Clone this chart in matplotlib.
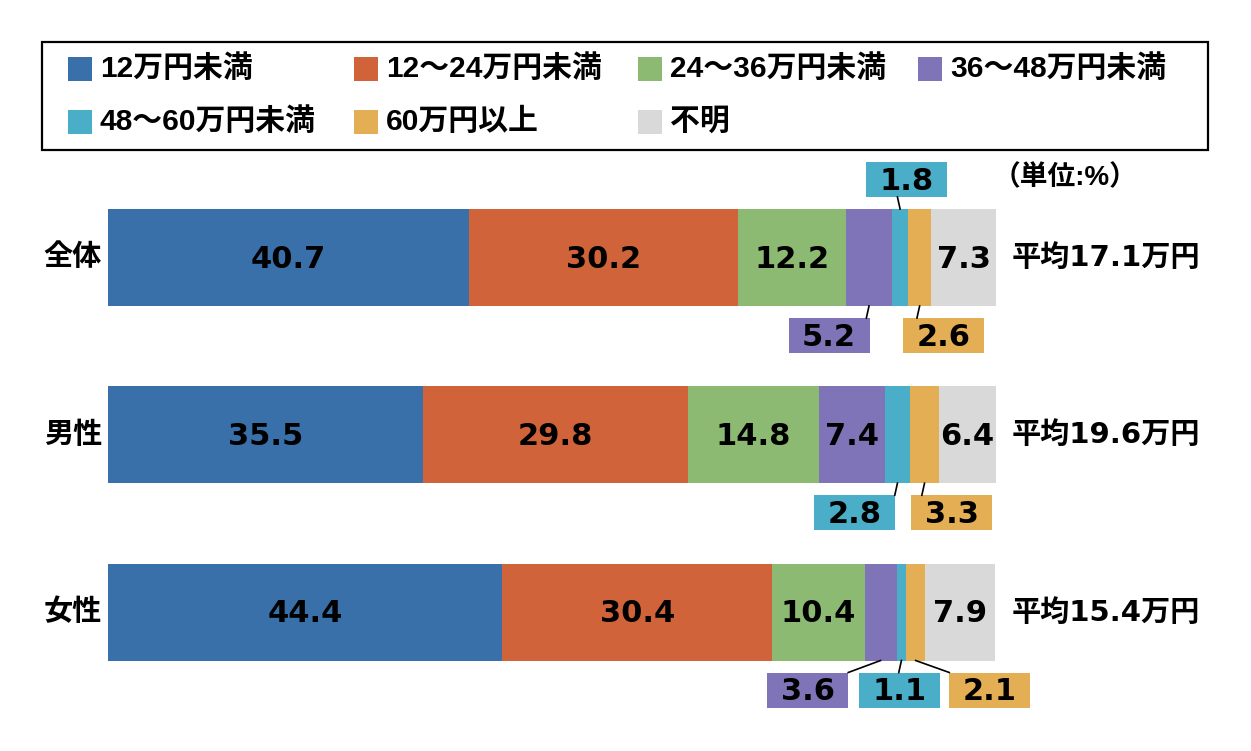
import matplotlib
matplotlib.use("Agg")
import matplotlib.pyplot as plt
from matplotlib.patches import Rectangle
import numpy as np

plt.rcParams['font.family'] = ['Liberation Sans', 'Noto Sans CJK JP', 'DejaVu Sans']
plt.rcParams['font.weight'] = 'bold'
NUM_FAMILY = ['DejaVu Sans', 'Noto Sans CJK JP']

groups = ['全体', '男性', '女性']
series = ['12万円未満', '12～24万円未満', '24～36万円未満', '36～48万円未満',
          '48～60万円未満', '60万円以上', '不明']
colors = ['#3A70AA', '#D0633A', '#8DBA72', '#7E74B7', '#4AAEC8', '#E4AE55', '#D9D9D9']
values = {
    '全体': [40.7, 30.2, 12.2, 5.2, 1.8, 2.6, 7.3],
    '男性': [35.5, 29.8, 14.8, 7.4, 2.8, 3.3, 6.4],
    '女性': [44.4, 30.4, 10.4, 3.6, 1.1, 2.1, 7.9],
}
averages = ['平均17.1万円', '平均19.6万円', '平均15.4万円']
unit_label = '（単位:%）'

# which segments are labeled inside; others get callout boxes
inside = {
    '全体': [0, 1, 2, 6],
    '男性': [0, 1, 2, 3, 6],
    '女性': [0, 1, 2, 6],
}
# callouts: (segment index, box center x in axis %, side: -1 above, +1 below)
callouts = {
    '全体': [(4, 89.9, -1), (3, 81.2, 1), (5, 94.1, 1)],
    '男性': [(4, 84.1, 1), (5, 95.0, 1)],
    '女性': [(3, 78.8, 1), (4, 89.1, 1), (5, 99.3, 1)],
}

W, H = 1251, 751
fig = plt.figure(figsize=(W / 100, H / 100), dpi=100)

ax_top, ax_bot = 160, 720
ax = fig.add_axes([108 / W, 1 - ax_bot / H, 888 / W, (ax_bot - ax_top) / H])
unit = 177.25
ax.set_xlim(0, 100)
ax.set_ylim((ax_bot - 257.5) / unit, -(257.5 - ax_top) / unit)
ax.axis('off')

bar_h = 97 / unit
box_w = 81 / 888 * 100
box_h = 35 / unit
box_off = 78 / unit
num_fs = 22

for gi, g in enumerate(groups):
    vals = values[g]
    left = 0.0
    centers = []
    for si, v in enumerate(vals):
        ax.barh(gi, v, left=left, height=bar_h, color=colors[si], edgecolor='none')
        centers.append(left + v / 2)
        if si in inside[g]:
            ax.text(left + v / 2, gi + 0.01, f'{v:.1f}', ha='center', va='center',
                    fontsize=num_fs, fontweight='bold', color='black',
                    family=NUM_FAMILY)
        left += v
    for si, bx, side in callouts[g]:
        by = gi + side * box_off
        ax.add_patch(Rectangle((bx - box_w / 2, by - box_h / 2), box_w, box_h,
                               facecolor=colors[si], edgecolor='none', clip_on=False))
        ax.text(bx, by + 0.01, f'{vals[si]:.1f}', ha='center', va='center',
                fontsize=num_fs, fontweight='bold', color='black', clip_on=False,
                family=NUM_FAMILY)
        x0 = centers[si]
        y0 = gi + side * bar_h / 2
        x1 = float(np.clip(x0, bx - box_w / 2, bx + box_w / 2))
        if abs(x1 - x0) < 0.5:
            x1 = x0 - 0.3
        y1 = by - side * box_h / 2
        ax.plot([x0, x1], [y0, y1], color='black', lw=1.2, clip_on=False)
    # group label
    fig.text(102 / W, 1 - (257.5 + gi * unit) / H, g, ha='right', va='center',
             fontsize=21, fontweight='bold')
    fig.text(1012 / W, 1 - (258 + gi * unit) / H, averages[gi], ha='left',
             va='center', fontsize=21, fontweight='bold', family=NUM_FAMILY)

fig.text(993 / W, 1 - 178 / H, unit_label, ha='left', va='center',
         fontsize=20, fontweight='bold')

# legend box
fig.patches.append(Rectangle((42 / W, 1 - 150 / H), (1208 - 42) / W, 108 / H,
                             transform=fig.transFigure, facecolor='none',
                             edgecolor='black', lw=1.6))
leg_x = [68, 354, 638, 918, 68, 354, 638]
leg_y = [69, 69, 69, 69, 122, 122, 122]
sq = 24
for i, name in enumerate(series):
    x, y = leg_x[i], leg_y[i]
    fig.patches.append(Rectangle((x / W, 1 - (y + sq / 2) / H), sq / W, sq / H,
                                 transform=fig.transFigure, facecolor=colors[i],
                                 edgecolor='none'))
    fig.text((x + sq + 8) / W, 1 - y / H, name, ha='left', va='center',
             fontsize=21.5, fontweight='bold')

fig.savefig('out.png', dpi=100)
